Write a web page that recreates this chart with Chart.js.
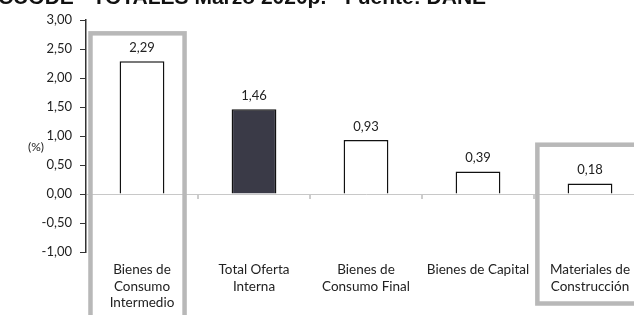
<!DOCTYPE html>
<html>
<head>
<meta charset="utf-8">
<script src="https://cdn.jsdelivr.net/npm/chart.js@4/dist/chart.umd.min.js"></script>
<style>
  html, body { margin: 0; padding: 0; background: #fff; overflow: hidden; width: 634px; height: 315px; }
  #wrap { position: relative; width: 660px; height: 315px; }
  #title { position: absolute; left: -2px; top: -15px; font: bold 21px "Liberation Sans", Arial, sans-serif; line-height: 24px; color: #111; white-space: nowrap; z-index: 2; }
  canvas { position: absolute; left: 0; top: 0; }
</style>
</head>
<body>
<div id="wrap">
  <div id="title">CUODE - TOTALES Marzo 2020p. - Fuente: DANE</div>
  <canvas id="c" width="660" height="315"></canvas>
</div>
<script>
const categories = [
  ["Bienes de", "Consumo", "Intermedio"],
  ["Total Oferta", "Interna"],
  ["Bienes de", "Consumo Final"],
  ["Bienes de Capital"],
  ["Materiales de", "Construcción"]
];
const values = [2.29, 1.46, 0.93, 0.39, 0.18];
const highlighted = [0, 4];
const yMin = -1, yMax = 3, yStep = 0.5;
const unitLabel = "(%)";

const FONT = "Lato, 'Open Sans', sans-serif";
const fmt = v => v.toFixed(2).replace('.', ',');

const fills = values.map((v, i) => i === 1 ? '#3a3a47' : '#ffffff');

const decorPlugin = {
  id: 'decor',
  beforeDatasetsDraw(chart) {
    const ctx = chart.ctx;
    const x = chart.scales.x, y = chart.scales.y;
    const y0 = y.getPixelForValue(0);
    ctx.save();
    ctx.strokeStyle = '#9a9a9a';
    ctx.lineWidth = 1;
    for (let i = 0; i < values.length - 1; i++) {
      const bx = (x.getPixelForValue(i) + x.getPixelForValue(i + 1)) / 2;
      ctx.beginPath();
      ctx.moveTo(bx, y0 + 1);
      ctx.lineTo(bx, y0 + 5);
      ctx.stroke();
    }
    ctx.restore();
  },
  afterDatasetsDraw(chart) {
    const ctx = chart.ctx;
    const meta = chart.getDatasetMeta(0);
    const x = chart.scales.x, y = chart.scales.y;
    ctx.save();
    ctx.fillStyle = '#222';
    ctx.font = "13px " + FONT;
    ctx.textAlign = 'center';
    ctx.textBaseline = 'bottom';
    meta.data.forEach((bar, i) => {
      ctx.fillText(fmt(values[i]), bar.x, bar.y - 7);
    });
    ctx.strokeStyle = '#b8b8b8';
    ctx.lineWidth = 4.5;
    const step = x.getPixelForValue(1) - x.getPixelForValue(0);
    const f1c = x.getPixelForValue(highlighted[0]);
    ctx.strokeRect(f1c - 0.46 * step, y.getPixelForValue(2.77), 0.84 * step, 400);
    const f2c = x.getPixelForValue(highlighted[1]);
    const top2 = y.getPixelForValue(0.85);
    ctx.strokeRect(f2c - 0.47 * step, top2, step, 303.5 - top2);
    ctx.fillStyle = '#222';
    ctx.font = "12px " + FONT;
    ctx.textAlign = 'center';
    ctx.textBaseline = 'middle';
    ctx.fillText(unitLabel, 36, y.getPixelForValue(0.81));
    ctx.restore();
  }
};

new Chart(document.getElementById('c'), {
  type: 'bar',
  data: {
    labels: categories,
    datasets: [{
      data: values,
      backgroundColor: fills,
      borderColor: '#111',
      borderWidth: 1.5,
      categoryPercentage: 0.4,
      barPercentage: 1
    }]
  },
  options: {
    responsive: false,
    animation: false,
    devicePixelRatio: 1,
    layout: { padding: { top: 20, right: 14, left: 0, bottom: 0 } },
    plugins: { legend: { display: false }, tooltip: { enabled: false } },
    scales: {
      x: {
        grid: { display: false },
        border: { display: false },
        ticks: { color: '#222', font: { family: FONT, size: 13.5 }, padding: 2, maxRotation: 0, autoSkip: false },
        afterFit: s => { s.height = 63; }
      },
      y: {
        min: yMin, max: yMax,
        ticks: { stepSize: yStep, color: '#222', font: { family: FONT, size: 13 }, padding: 8, callback: v => fmt(v) },
        grid: {
          color: c => c.tick && c.tick.value === 0 ? '#c8c8c8' : 'rgba(0,0,0,0)',
          tickColor: '#333',
          tickLength: 6,
          lineWidth: 1
        },
        border: { color: '#333', width: 1.5 },
        afterFit: s => { s.width = 86; }
      }
    }
  },
  plugins: [decorPlugin]
});
</script>
</body>
</html>
